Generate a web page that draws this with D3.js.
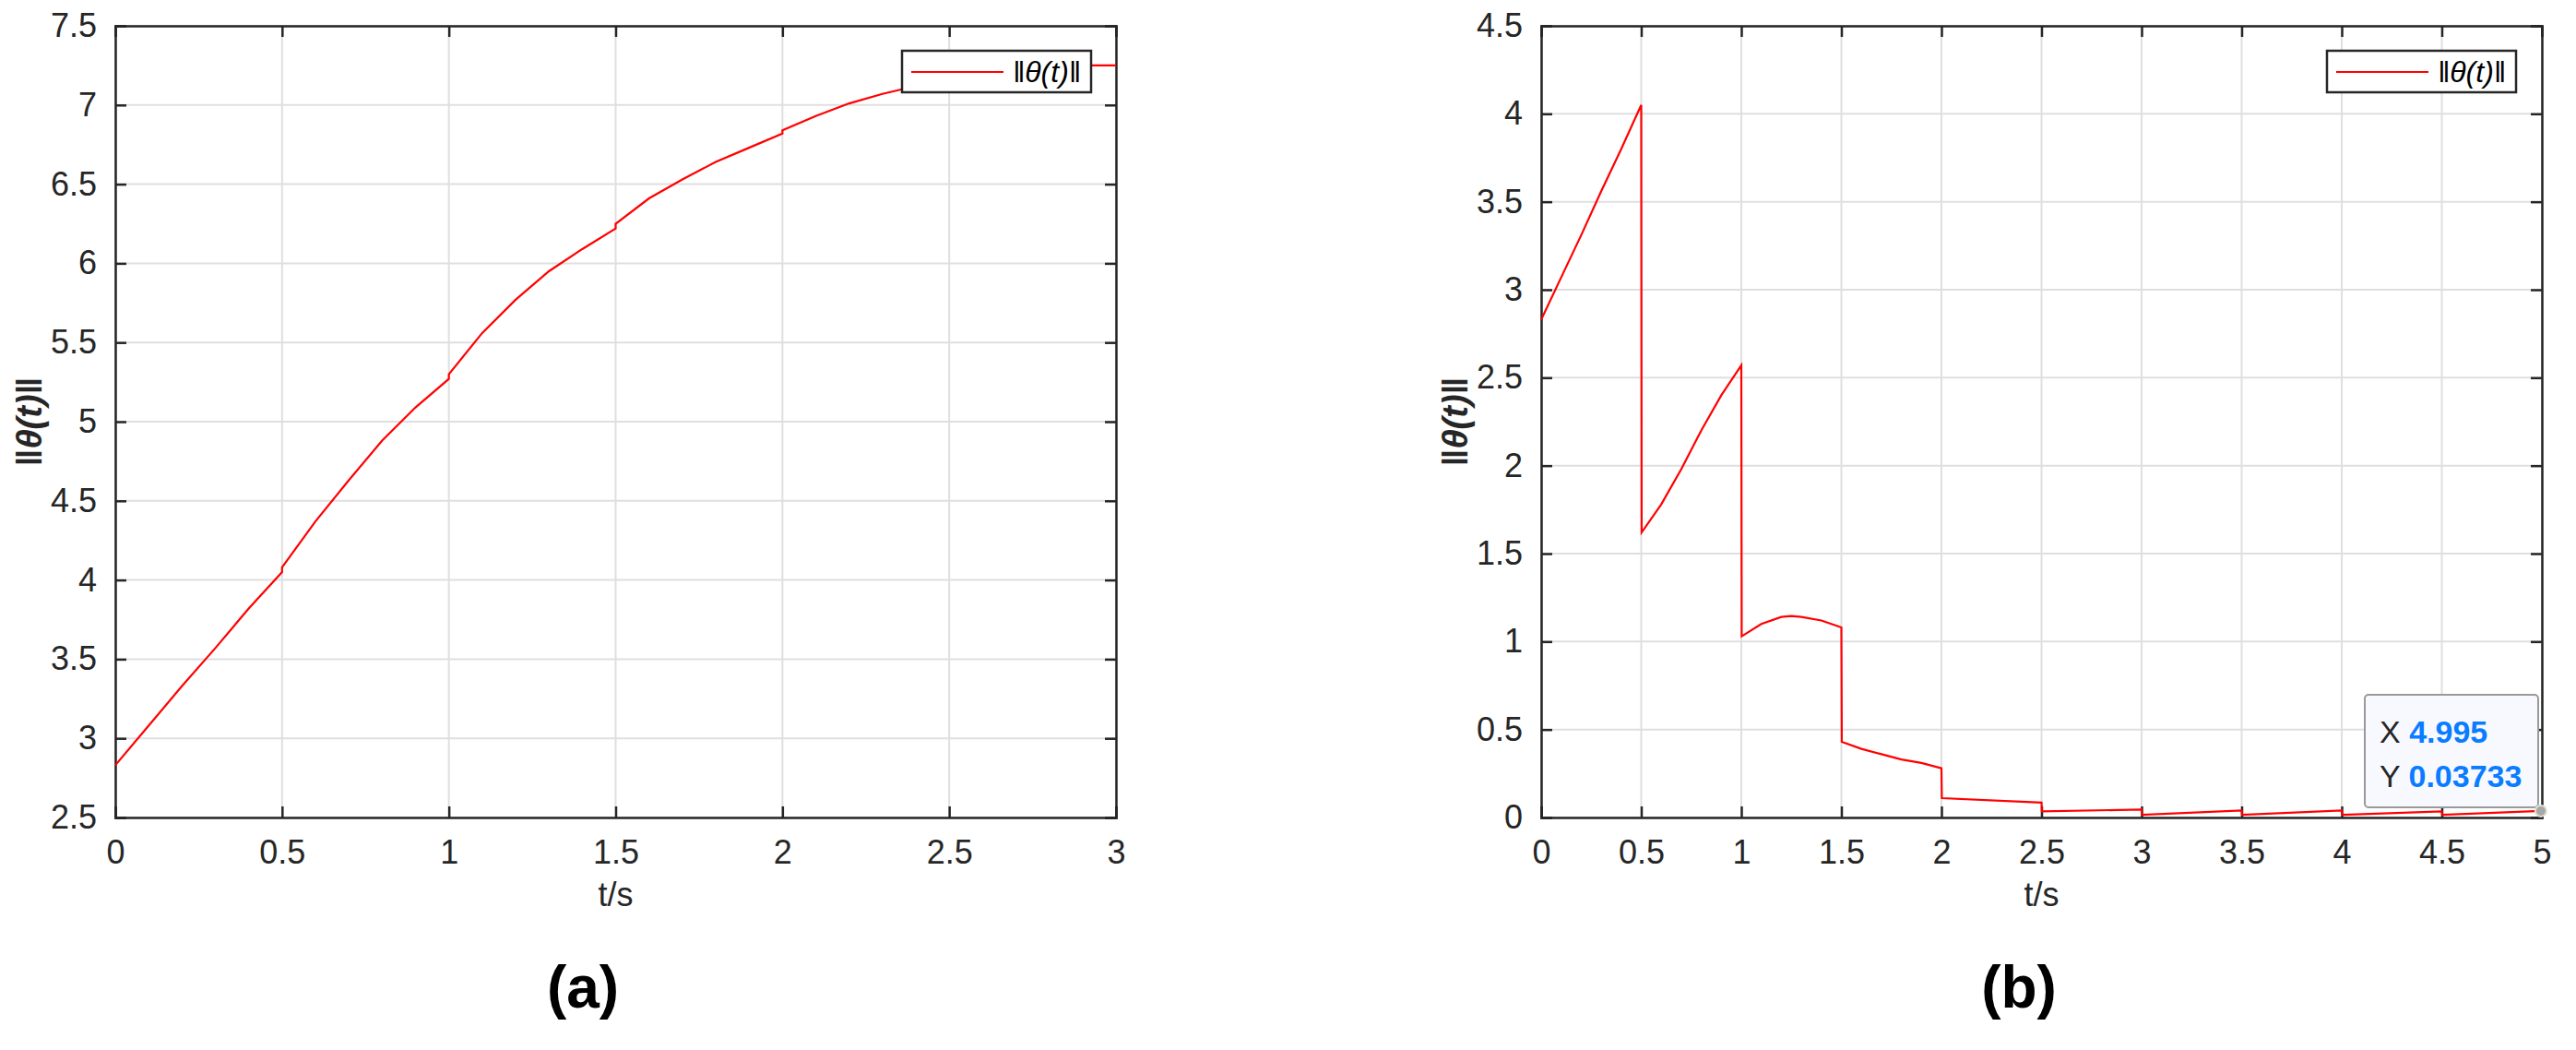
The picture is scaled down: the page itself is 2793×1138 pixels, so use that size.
<!DOCTYPE html>
<html>
<head>
<meta charset="utf-8">
<script src="https://cdn.jsdelivr.net/npm/d3@7"></script>
<style>
body { margin: 0; background: #fff; }
text { font-family: "Liberation Sans Narrow", "Liberation Sans", sans-serif; }
</style>
</head>
<body>
<svg id="chart" width="2793" height="1138"></svg>
<script>
// panel (a)
var tA = [0, 0.1, 0.2, 0.3, 0.4, 0.5, 0.5, 0.6, 0.7, 0.8, 0.9, 1.0, 1.0, 1.1, 1.2, 1.3, 1.4, 1.5,
    1.5, 1.6, 1.7, 1.8, 1.9, 2.0, 2.0, 2.1, 2.2, 2.3, 2.4, 2.5, 2.6, 2.7, 2.8, 2.9, 3.0];
var normA = [2.83, 3.08, 3.33, 3.57, 3.82, 4.05, 4.08, 4.37, 4.63, 4.88, 5.09, 5.27, 5.30, 5.56, 5.77, 5.95, 6.09, 6.22,
    6.25, 6.41, 6.53, 6.64, 6.73, 6.82, 6.84, 6.93, 7.01, 7.07, 7.12, 7.17, 7.20, 7.22, 7.24, 7.25, 7.25];

// panel (b)
var tB = [0, 0.1, 0.2, 0.3, 0.4, 0.5, 0.502, 0.6, 0.7, 0.8, 0.9, 1.0, 1.002, 1.1, 1.2, 1.25, 1.3, 1.4, 1.5,
    1.502, 1.6, 1.7, 1.8, 1.9, 2.0, 2.002, 2.5, 2.502, 3.0, 3.002, 3.5, 3.502, 4.0, 4.002, 4.5, 4.502, 4.995];
var normB = [2.83, 3.07, 3.31, 3.56, 3.80, 4.05, 1.62, 1.78, 1.98, 2.20, 2.40, 2.57, 1.03, 1.10, 1.14, 1.145, 1.14, 1.12, 1.08,
    0.43, 0.39, 0.36, 0.33, 0.31, 0.28, 0.11, 0.085, 0.035, 0.045, 0.015, 0.04, 0.015, 0.04, 0.015, 0.035, 0.015, 0.03733];

var ticksA = { x: d3.range(0, 3.01, 0.5), y: d3.range(2.5, 7.51, 0.5) };
var ticksB = { x: d3.range(0, 5.01, 0.5), y: d3.range(0, 4.51, 0.5) };

var svg = d3.select("#chart");
var fmt = d => d3.format("~g")(+d.toFixed(2));

function panel(opt) {
    var x = d3.scaleLinear().domain(opt.xDom).range([opt.left, opt.right]);
    var y = d3.scaleLinear().domain(opt.yDom).range([opt.bottom, opt.top]);
    var g = svg.append("g");

    // grid
    g.append("g").selectAll("line").data(opt.ticks.x).join("line")
        .attr("x1", d => x(d)).attr("x2", d => x(d))
        .attr("y1", opt.top).attr("y2", opt.bottom)
        .attr("stroke", "#dfdfdf").attr("stroke-width", 2);
    g.append("g").selectAll("line").data(opt.ticks.y).join("line")
        .attr("y1", d => y(d)).attr("y2", d => y(d))
        .attr("x1", opt.left).attr("x2", opt.right)
        .attr("stroke", "#dfdfdf").attr("stroke-width", 2);

    // axes (ticks inward on all sides)
    var tick = 12;
    g.append("g").attr("transform", `translate(0,${opt.bottom})`)
        .call(d3.axisBottom(x).tickValues(opt.ticks.x).tickSize(-tick).tickPadding(24).tickFormat(fmt));
    g.append("g").attr("transform", `translate(0,${opt.top})`)
        .call(d3.axisTop(x).tickValues(opt.ticks.x).tickSize(-tick).tickFormat(""));
    g.append("g").attr("transform", `translate(${opt.left},0)`)
        .call(d3.axisLeft(y).tickValues(opt.ticks.y).tickSize(-tick).tickPadding(20).tickFormat(fmt));
    g.append("g").attr("transform", `translate(${opt.right},0)`)
        .call(d3.axisRight(y).tickValues(opt.ticks.y).tickSize(-tick).tickFormat(""));
    g.selectAll(".domain").attr("stroke", "#262626").attr("stroke-width", 2.5);
    g.selectAll(".tick line").attr("stroke", "#262626").attr("stroke-width", 2.5);
    g.selectAll(".tick text").attr("font-size", 36).attr("fill", "#262626")
        .attr("font-family", "'Liberation Sans Narrow', 'Liberation Sans', sans-serif");

    // line
    g.append("path")
        .datum(opt.t.map((d, i) => [d, opt.v[i]]))
        .attr("fill", "none").attr("stroke", "#ff0000").attr("stroke-width", 2.2)
        .attr("d", d3.line().x(d => x(d[0])).y(d => y(d[1])));

    // labels
    g.append("text").attr("x", (opt.left + opt.right) / 2).attr("y", 982)
        .attr("text-anchor", "middle").attr("font-size", 36).attr("fill", "#262626").text("t/s");
    g.append("text").attr("transform", `translate(${opt.left - 80},${(opt.top + opt.bottom) / 2}) rotate(-90)`)
        .attr("text-anchor", "middle").attr("font-size", 38).attr("fill", "#262626")
        .attr("font-family", "'DejaVu Serif', serif").attr("font-style", "italic").attr("font-weight", "bold")
        .text("\u2016\u03b8(t)\u2016");
    g.append("text").attr("x", opt.capX).attr("y", 1092)
        .attr("text-anchor", "middle").attr("font-size", 64).attr("font-weight", "bold")
        .attr("font-family", "'Liberation Serif', serif").attr("fill", "#000").text(opt.caption);

    // legend
    var lg = g.append("g").attr("transform", `translate(${opt.legX},55)`);
    lg.append("rect").attr("width", 205).attr("height", 45).attr("fill", "#fff")
        .attr("stroke", "#262626").attr("stroke-width", 2.5);
    lg.append("line").attr("x1", 10).attr("x2", 110).attr("y1", 23).attr("y2", 23)
        .attr("stroke", "#ff0000").attr("stroke-width", 2.2);
    lg.append("text").attr("x", 120).attr("y", 34).attr("font-size", 32)
        .attr("font-family", "'DejaVu Serif', serif").attr("font-style", "italic")
        .text("\u2016\u03b8(t)\u2016");
    return { x: x, y: y, g: g };
}

panel({ xDom: [0, 3], yDom: [2.5, 7.5], left: 125, right: 1210, top: 28, bottom: 886,
    ticks: ticksA, t: tA, v: normA, caption: "(a)", capX: 632, legX: 978 });
var b = panel({ xDom: [0, 5], yDom: [0, 4.5], left: 1671, right: 2756, top: 28, bottom: 886,
    ticks: ticksB, t: tB, v: normB, caption: "(b)", capX: 2189, legX: 2523 });

// datatip
var tipX = tB[tB.length - 1], tipY = normB[normB.length - 1];
var tip = b.g.append("g").attr("transform", "translate(2564,753)");
tip.append("rect").attr("width", 188).attr("height", 122).attr("rx", 4)
    .attr("fill", "#f8f9ff").attr("stroke", "#9a9a9a").attr("stroke-width", 2);
[["X ", d3.format(".4")(tipX)], ["Y ", d3.format(".4")(tipY)]].forEach((r, i) => {
    var t = tip.append("text").attr("x", 16).attr("y", 52 + i * 48).attr("font-size", 34);
    t.append("tspan").attr("fill", "#262626").text(r[0]);
    t.append("tspan").attr("fill", "#0a7cff").attr("font-weight", "bold").text(r[1]);
});
b.g.append("circle").attr("cx", b.x(tipX)).attr("cy", b.y(tipY)).attr("r", 6)
    .attr("fill", "#a8a8a8").attr("stroke", "#e0e0d0").attr("stroke-width", 2);
</script>
</body>
</html>
